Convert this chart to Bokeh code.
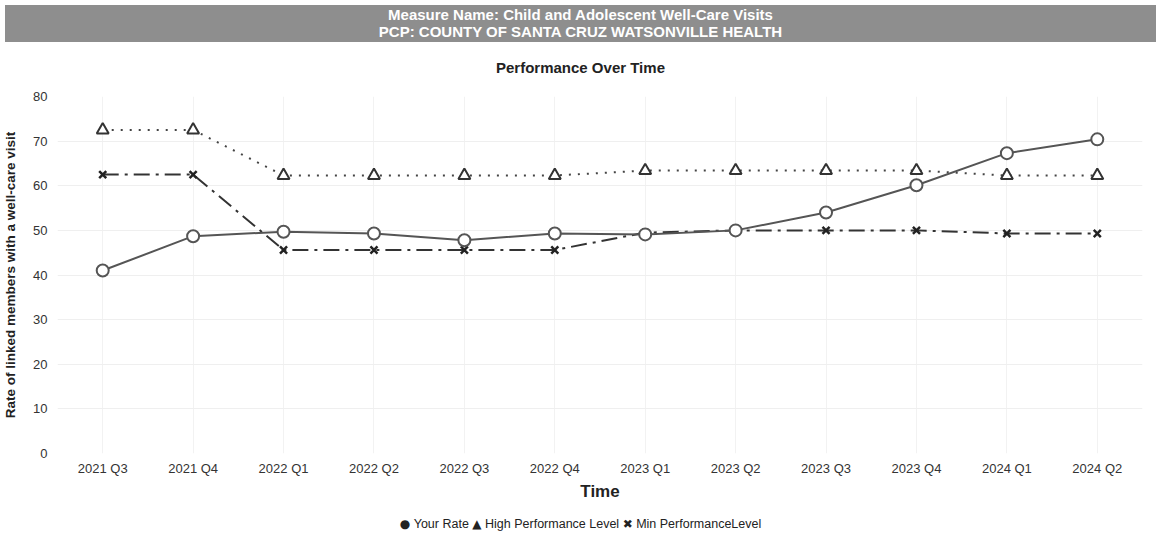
from bokeh.plotting import figure
from bokeh.models import Div, FactorRange, Range1d, ColumnDataSource, FixedTicker
from bokeh.layouts import column
from bokeh.embed import file_html
from bokeh.resources import INLINE

quarters = ["2021 Q3", "2021 Q4", "2022 Q1", "2022 Q2", "2022 Q3", "2022 Q4",
            "2023 Q1", "2023 Q2", "2023 Q3", "2023 Q4", "2024 Q1", "2024 Q2"]
your_rate = [41.0, 48.7, 49.7, 49.3, 47.8, 49.3, 49.1, 50.0, 54.0, 60.1, 67.3, 70.4]
high_perf = [72.5, 72.5, 62.3, 62.3, 62.3, 62.3, 63.4, 63.4, 63.4, 63.4, 62.3, 62.3]
min_perf = [62.5, 62.5, 45.6, 45.6, 45.6, 45.6, 49.5, 50.0, 50.0, 50.0, 49.3, 49.3]
y_ticks = [0, 10, 20, 30, 40, 50, 60, 70, 80]

header_lines = ["Measure Name: Child and Adolescent Well-Care Visits",
                "PCP: COUNTY OF SANTA CRUZ WATSONVILLE HEALTH"]
chart_title = "Performance Over Time"
legend_items = [("\u25CF", "Your Rate"), ("\u25B2", "High Performance Level"),
                ("\u2716", "Min PerformanceLevel")]

FONT = "Liberation Sans"
W = 1151
DH = 72

header = Div(
    text=(f'<div style="width:{W}px;background-color:#8e8e8e;color:white;height:37px;font-weight:bold;'
          'font-size:15px;line-height:17px;padding-top:1px;box-sizing:border-box;text-align:center;">'
          + "<br>".join(header_lines) + '</div>'
          f'<div style="width:{W}px;text-align:center;font-weight:bold;font-size:15px;line-height:18px;'
          'margin-top:17px;color:#222222;">' + chart_title + '</div>'),
    width=W, height=DH,
    styles={"font-family": FONT},
)

legend_html = "&nbsp;".join(
    f'<span style="font-family:\'DejaVu Sans\';font-size:12px;">{sym}</span>&nbsp;{label}'
    for sym, label in legend_items)
legend_div = Div(
    text=(f'<div style="width:{W}px;text-align:center;font-size:12.5px;line-height:18px;'
          f'padding-top:2px;color:#222222;">{legend_html}</div>'),
    width=W, height=18,
    styles={"font-family": FONT},
)

p = figure(x_range=FactorRange(factors=quarters), y_range=Range1d(0, 80),
           width=W, height=426, output_backend="svg", toolbar_location=None,
           min_border_left=44, min_border_right=9, min_border_top=14, min_border_bottom=55)
p.outline_line_color = None

p.yaxis.ticker = FixedTicker(ticks=y_ticks)
p.xaxis.axis_label = "Time"
p.yaxis.axis_label = "Rate of linked members with a well-care visit"
for ax in [p.xaxis[0], p.yaxis[0]]:
    ax.axis_line_color = None
    ax.major_tick_line_color = None
    ax.minor_tick_line_color = None
    ax.major_tick_out = 0
    ax.major_tick_in = 0
    ax.minor_tick_out = 0
    ax.major_label_text_font = FONT
    ax.major_label_text_font_size = "13px"
    ax.major_label_text_color = "#333333"
    ax.axis_label_text_font = FONT
    ax.axis_label_text_font_style = "bold"
    ax.axis_label_text_color = "#222222"
p.xaxis[0].axis_label_text_font_size = "17px"
p.xaxis[0].major_label_standoff = 7
p.xaxis[0].axis_label_standoff = 3
p.yaxis[0].axis_label_text_font_size = "13.5px"
p.yaxis[0].major_label_standoff = 10
p.yaxis[0].axis_label_standoff = 12
p.xgrid.grid_line_color = "#f2f2f2"
p.ygrid.grid_line_color = "#efefef"

src = ColumnDataSource(dict(q=quarters, yr=your_rate, hp=high_perf, mp=min_perf))

p.line("q", "hp", source=src, line_color="#444444", line_width=2, line_dash="2 7")
p.line("q", "mp", source=src, line_color="#333333", line_width=2, line_dash="16 6 3 6")
p.line("q", "yr", source=src, line_color="#555555", line_width=2)
p.scatter("q", "hp", source=src, marker="triangle", size=12, fill_color="white",
          line_color="#333333", line_width=2)
p.scatter("q", "mp", source=src, marker="x", size=10, line_color="#222222", line_width=2.5)
p.scatter("q", "yr", source=src, marker="circle", size=12, fill_color="white",
          line_color="#555555", line_width=2)

layout = column(header, p, legend_div, spacing=0)
open("out.html", "w").write(file_html(layout, INLINE))
